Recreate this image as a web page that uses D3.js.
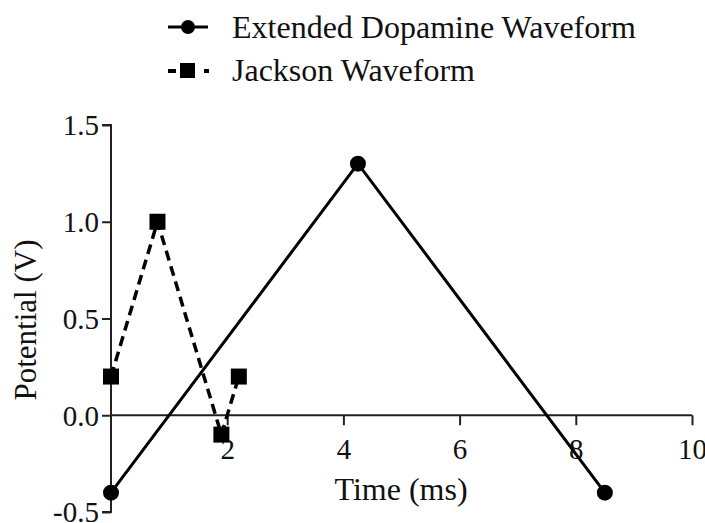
<!DOCTYPE html>
<html lang="en">
<head>
<meta charset="utf-8">
<title>Waveforms</title>
<script src="https://cdn.jsdelivr.net/npm/d3@7"></script>
<style>
  body { margin: 0; background: #fff; }
  text { font-family: "Liberation Serif", "Times New Roman", serif; fill: #111; }
</style>
</head>
<body>
<script>
// -- Data -- //
const seriesNames = ["Extended Dopamine Waveform", "Jackson Waveform"];
const dopamineTime = [0, 4.25, 8.5];
const dopamineV = [-0.4, 1.3, -0.4];
const jacksonTime = [0, 0.8, 1.9, 2.2];
const jacksonV = [0.2, 1.0, -0.1, 0.2];
const xTicks = [2, 4, 6, 8, 10];
const yTicks = [-0.5, 0.0, 0.5, 1.0, 1.5];

const serif = "'Liberation Serif', 'Times New Roman', serif";

// -- Setting -- //
const width = 705, height = 523;
const svg = d3.select("body").append("svg")
  .attr("width", width).attr("height", height);

const x = d3.scaleLinear().domain([0, 10]).range([111, 692]);
const y = d3.scaleLinear().domain([-0.5, 1.5]).range([512, 125]);

// axes
const yAxis = svg.append("g")
  .attr("transform", `translate(${x(0)},0)`)
  .call(d3.axisLeft(y).tickValues(yTicks)
    .tickFormat(d => d.toFixed(1))
    .tickSize(9).tickPadding(4));
yAxis.select(".domain").attr("d", `M-9,${y(-0.5)}H0V${y(1.5)}H-9`);
yAxis.selectAll(".tick text")
  .attr("x", -12)
  .attr("dy", "0.34em");

const xAxis = svg.append("g")
  .attr("transform", `translate(0,${y(0)})`)
  .call(d3.axisBottom(x).tickValues(xTicks).tickSize(10));
xAxis.select(".domain").attr("d", `M${x(0)},0H${x(10)}`);
xAxis.selectAll(".tick text")
  .attr("y", 44)
  .attr("dy", 0);

svg.selectAll("g").attr("font-family", serif);
svg.selectAll(".tick text")
  .style("font-family", serif)
  .attr("font-size", 29)
  .attr("fill", "#111");
svg.selectAll(".domain, .tick line").attr("stroke", "#222").attr("stroke-width", 2);

// axis titles
svg.append("text")
  .attr("x", 401).attr("y", 500)
  .attr("text-anchor", "middle")
  .attr("font-size", 32)
  .text("Time (ms)");
svg.append("text")
  .attr("transform", "translate(36,320) rotate(-90)")
  .attr("text-anchor", "middle")
  .attr("font-size", 31)
  .text("Potential (V)");

// -- Series -- //
const line = d3.line().x(d => x(d[0])).y(d => y(d[1]));
const dopPts = dopamineTime.map((t, i) => [t, dopamineV[i]]);
const jackPts = jacksonTime.map((t, i) => [t, jacksonV[i]]);

svg.append("path")
  .attr("d", line(jackPts))
  .attr("fill", "none").attr("stroke", "#000")
  .attr("stroke-width", 3.5)
  .attr("stroke-dasharray", "10,6");

svg.append("path")
  .attr("d", line(dopPts))
  .attr("fill", "none").attr("stroke", "#000")
  .attr("stroke-width", 3);

svg.append("g").selectAll("rect")
  .data(jackPts).join("rect")
    .attr("x", d => x(d[0]) - 8).attr("y", d => y(d[1]) - 8)
    .attr("width", 16).attr("height", 16)
    .attr("fill", "#000");

svg.append("g").selectAll("circle")
  .data(dopPts).join("circle")
    .attr("cx", d => x(d[0])).attr("cy", d => y(d[1]))
    .attr("r", 8)
    .attr("fill", "#000");

// -- Legend -- //
const lg = svg.append("g");
lg.append("line").attr("x1", 168).attr("x2", 208).attr("y1", 27).attr("y2", 27)
  .attr("stroke", "#000").attr("stroke-width", 3);
lg.append("circle").attr("cx", 188).attr("cy", 27).attr("r", 7).attr("fill", "#000");
lg.append("text").attr("x", 232).attr("y", 38).attr("font-size", 32).text(seriesNames[0]);

lg.append("line").attr("x1", 168).attr("x2", 176).attr("y1", 71).attr("y2", 71)
  .attr("stroke", "#000").attr("stroke-width", 4);
lg.append("rect").attr("x", 180).attr("y", 63).attr("width", 15).attr("height", 15).attr("fill", "#000");
lg.append("line").attr("x1", 204).attr("x2", 209).attr("y1", 71).attr("y2", 71)
  .attr("stroke", "#000").attr("stroke-width", 4);
lg.append("text").attr("x", 232).attr("y", 81).attr("font-size", 32).text(seriesNames[1]);
</script>
</body>
</html>
